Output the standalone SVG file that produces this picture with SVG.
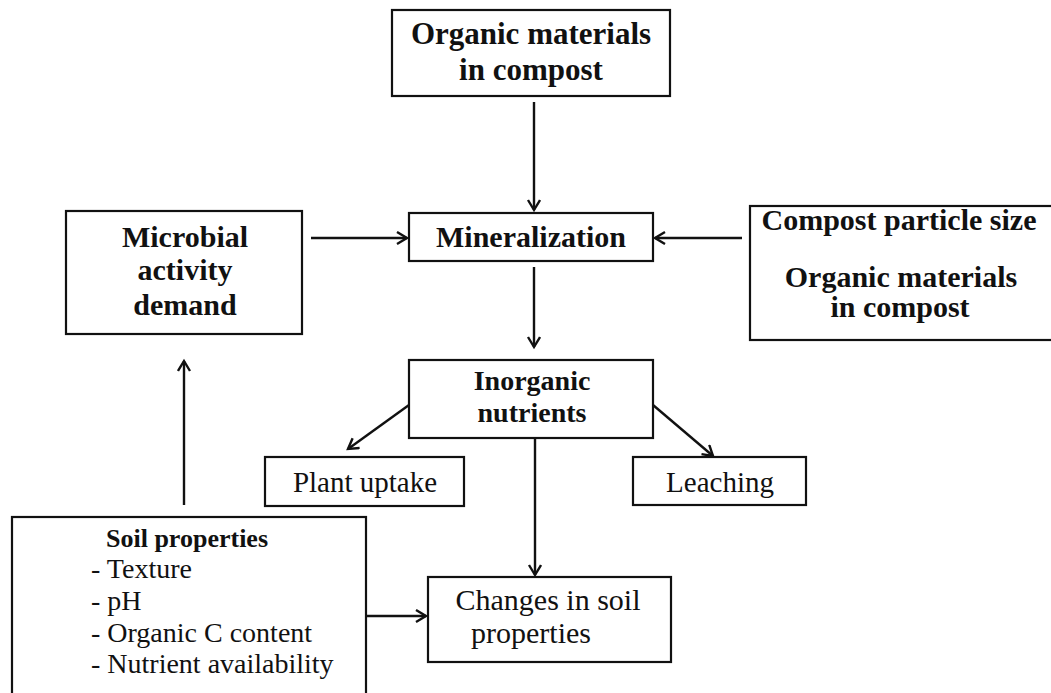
<svg xmlns="http://www.w3.org/2000/svg" width="1051" height="693" viewBox="0 0 1051 693">
<style>
.box{fill:#fff;stroke:#111;stroke-width:2.2}
.b{font-family:"Liberation Serif",serif;font-weight:bold;fill:#111;text-anchor:middle}
.r{font-family:"Liberation Serif",serif;fill:#111}
.c line{stroke:#111;stroke-width:2.4;marker-end:url(#ah)}
</style>
<defs>
<marker id="ah" markerUnits="userSpaceOnUse" markerWidth="16" markerHeight="16" refX="12" refY="7" orient="auto">
<path d="M2,1 L12,7 L2,13" fill="none" stroke="#111" stroke-width="2.4"/>
</marker>
</defs>
<rect width="1051" height="693" fill="#fff"/>
<g id="top">
<rect class="box" x="392" y="10" width="278" height="86"/>
<text class="b" x="531" y="44" font-size="31">Organic materials</text>
<text class="b" x="531" y="80" font-size="31">in compost</text>
</g>
<g id="mineralization">
<rect class="box" x="409" y="213" width="244" height="48"/>
<text class="b" x="531" y="247" font-size="30">Mineralization</text>
</g>
<g id="microbial">
<rect class="box" x="66" y="211" width="236" height="123"/>
<text class="b" x="185" y="247" font-size="30">Microbial</text>
<text class="b" x="185" y="280" font-size="30">activity</text>
<text class="b" x="185" y="315" font-size="30">demand</text>
</g>
<g id="compost">
<rect class="box" x="750" y="206" width="320" height="134"/>
<text class="b" x="899" y="230" font-size="30">Compost particle size</text>
<text class="b" x="901" y="287" font-size="30">Organic materials</text>
<text class="b" x="900" y="317" font-size="30">in compost</text>
</g>
<g id="inorganic">
<rect class="box" x="409" y="360" width="244" height="78"/>
<text class="b" x="532" y="390" font-size="28">Inorganic</text>
<text class="b" x="532" y="422" font-size="28">nutrients</text>
</g>
<g id="plant">
<rect class="box" x="265" y="457" width="199" height="49"/>
<text class="r" x="365" y="492" font-size="29" text-anchor="middle">Plant uptake</text>
</g>
<g id="leaching">
<rect class="box" x="633" y="457" width="173" height="48"/>
<text class="r" x="720" y="492" font-size="29" text-anchor="middle">Leaching</text>
</g>
<g id="changes">
<rect class="box" x="428" y="577" width="243" height="85"/>
<text class="r" x="548" y="610" font-size="30" text-anchor="middle">Changes in soil</text>
<text class="r" x="531" y="643" font-size="30" text-anchor="middle">properties</text>
</g>
<g id="soil">
<rect class="box" x="12" y="517" width="354" height="200"/>
<text class="r" x="106" y="547" font-size="26" font-weight="bold">Soil properties</text>
<text class="r" x="91" y="578" font-size="28">- Texture</text>
<text class="r" x="91" y="610" font-size="28">- pH</text>
<text class="r" x="91" y="642" font-size="28">- Organic C content</text>
<text class="r" x="91" y="673" font-size="28">- Nutrient availability</text>
</g>
<g class="c" id="connectors">
<line x1="534" y1="102" x2="534" y2="210"/>
<line x1="311" y1="238" x2="407" y2="238"/>
<line x1="742" y1="238" x2="655" y2="238"/>
<line x1="534" y1="267" x2="534" y2="347"/>
<line x1="409" y1="405" x2="348" y2="449"/>
<line x1="653" y1="405" x2="713" y2="456"/>
<line x1="535" y1="438" x2="535" y2="575"/>
<line x1="366" y1="616" x2="426" y2="616"/>
<line x1="184" y1="505" x2="184" y2="361"/>
</g>
</svg>
